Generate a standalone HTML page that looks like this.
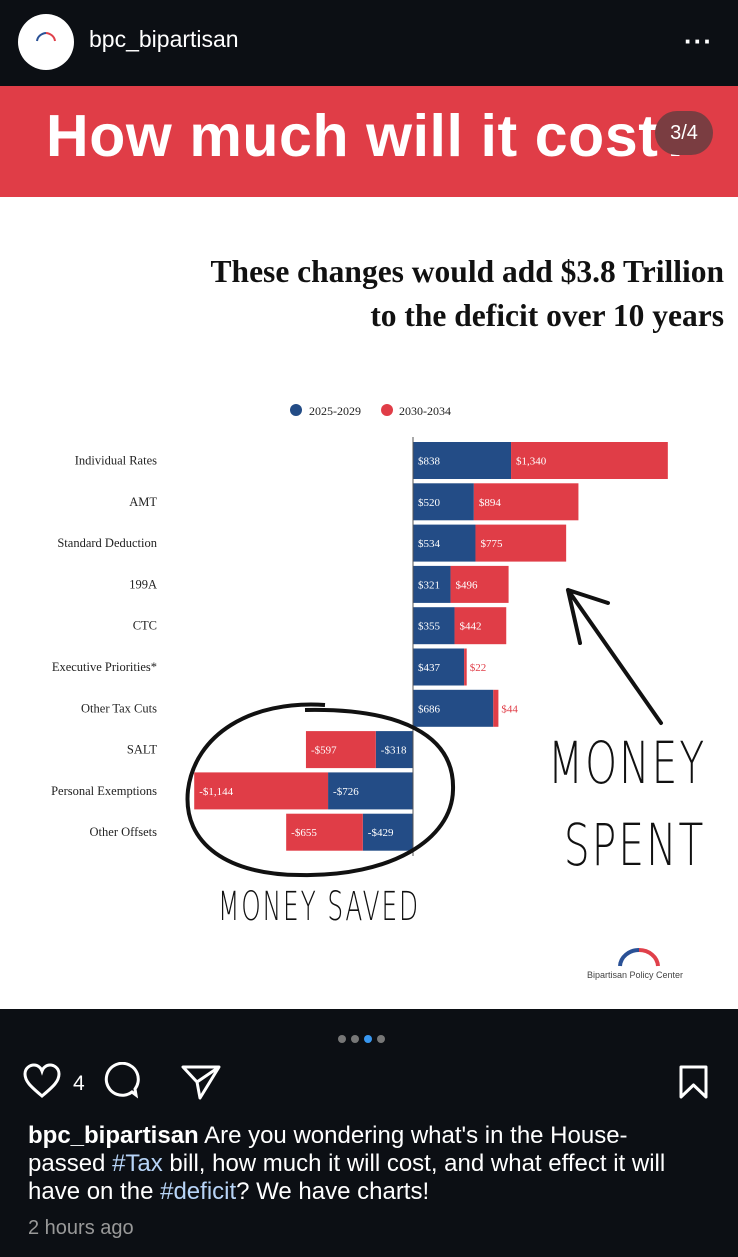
<!DOCTYPE html>
<html><head><meta charset="utf-8"><style>
body{margin:0;width:738px;height:1257px;background:#0c0f14;position:relative;overflow:hidden;font-family:"Liberation Sans",sans-serif}
.abs{position:absolute}
</style></head><body>
<div class="abs" style="left:18px;top:14px;width:56px;height:56px;border-radius:50%;background:#fff"></div>
<svg class="abs" style="left:34px;top:30px" width="24" height="12"><path d="M3 11 A10 9 0 0 1 12 3" stroke="#2a5196" stroke-width="2" fill="none"/><path d="M12 3 A10 9 0 0 1 21 11" stroke="#e0404a" stroke-width="2" fill="none"/></svg>
<div class="abs" style="left:89px;top:26px;color:#fff;font-size:23px">bpc_bipartisan</div>
<div class="abs" style="left:684px;top:26px;color:#fff;font-size:26px;letter-spacing:1px;font-weight:bold">···</div>
<div class="abs" style="left:0;top:86px;width:738px;height:111px;background:#e03d47"></div>
<div class="abs" style="left:46px;top:102px;color:#fff;font-size:59px;font-weight:bold;letter-spacing:0.6px;white-space:nowrap">How much will it cost?</div>
<div class="abs" style="left:655px;top:111px;width:58px;height:44px;border-radius:22px;background:#7a3d41;color:#fff;font-size:20px;text-align:center;line-height:44px">3/4</div>
<div class="abs" style="left:0;top:197px;width:738px;height:812px;background:#fff"></div>
<div class="abs" style="right:14px;top:250px;text-align:right;font-family:'Liberation Serif',serif;font-weight:bold;font-size:31.5px;line-height:44px;color:#111;white-space:nowrap">These changes would add $3.8 Trillion<br>to the deficit over 10 years</div>
<svg id="chart" class="abs" style="left:0;top:390px" width="738" height="620"></svg>
<div class="abs" style="left:548px;top:722px;font-size:58px;line-height:82px;color:#111;font-family:'DejaVu Sans',sans-serif;font-weight:200;transform:scaleX(0.7);transform-origin:left top;letter-spacing:3px;text-align:center">MONEY<br>&nbsp;SPENT</div>
<div class="abs" style="left:218px;top:884px;font-size:40px;color:#111;font-family:'DejaVu Sans',sans-serif;font-weight:200;transform:scaleX(0.62);transform-origin:left top;letter-spacing:3px;white-space:nowrap">MONEY SAVED</div>
<div class="abs" style="left:587px;top:970px;font-size:9px;color:#444">Bipartisan Policy Center</div>
<svg class="abs" style="left:616px;top:946px" width="46" height="22"><path d="M4 20 A19 17 0 0 1 23 4" stroke="#2a5196" stroke-width="4" fill="none"/><path d="M23 4 A19 17 0 0 1 42 20" stroke="#e0404a" stroke-width="4" fill="none"/></svg>
<div class="abs" style="left:338px;top:1030px">
<span style="display:inline-block;width:8px;height:8px;border-radius:50%;background:#777;margin-right:5px"></span><span style="display:inline-block;width:8px;height:8px;border-radius:50%;background:#777;margin-right:5px"></span><span style="display:inline-block;width:8px;height:8px;border-radius:50%;background:#3897f0;margin-right:5px"></span><span style="display:inline-block;width:8px;height:8px;border-radius:50%;background:#777"></span></div>
<svg class="abs" style="left:22px;top:1062px" width="220" height="40">
<path d="M20 34 C8 24 3 19 3 12 C3 6 8 3 12 3 C16 3 19 6 20 9 C21 6 24 3 28 3 C32 3 37 6 37 12 C37 19 32 24 20 34Z" fill="none" stroke="#fff" stroke-width="3"/>
<text x="51" y="28" fill="#fff" font-size="21" font-family="Liberation Sans">4</text>
<path d="M124 30 L128 33 L127 27 A16 16 0 1 0 124 30Z" fill="none" stroke="#fff" stroke-width="3" transform="translate(-14,0)"/>
<path d="M161 5 L197 5 L178 36 L175 20 Z M175 20 L197 5" fill="none" stroke="#fff" stroke-width="3" stroke-linejoin="round"/>
</svg>
<svg class="abs" style="left:678px;top:1064px" width="32" height="36"><path d="M3 3 H28 V33 L15.5 21 L3 33 Z" fill="none" stroke="#fff" stroke-width="3" stroke-linejoin="round"/></svg>
<div class="abs" style="left:28px;top:1122px;width:705px;color:#fff;font-size:24px;line-height:28px;white-space:nowrap"><b>bpc_bipartisan</b> Are you wondering what's in the House-<br>passed <span style="color:#b7d4f7">#Tax</span> bill, how much it will cost, and what effect it will<br>have on the <span style="color:#b7d4f7">#deficit</span>? We have charts!</div>
<div class="abs" style="left:28px;top:1217px;color:#999;font-size:20px">2 hours ago</div>
<script>
const categories=["Individual Rates","AMT","Standard Deduction","199A","CTC","Executive Priorities*","Other Tax Cuts","SALT","Personal Exemptions","Other Offsets"];
const early=[838,520,534,321,355,437,686,-318,-726,-429];
const late=[1340,894,775,496,442,22,44,-597,-1144,-655];
const earlyLabels=["$838","$520","$534","$321","$355","$437","$686","-$318","-$726","-$429"];
const lateLabels=["$1,340","$894","$775","$496","$442","$22","$44","-$597","-$1,144","-$655"];
const svg=document.getElementById('chart');
const NS='http://www.w3.org/2000/svg';
const x0=413, k=0.117;
const xs=v=>x0+v*k;
const rowY=i=>52+i*41.3;
const bh=37;
function mk(t,a){const e=document.createElementNS(NS,t);for(const n in a)e.setAttribute(n,a[n]);svg.appendChild(e);return e;}
let e=mk('circle',{cx:296,cy:20,r:6,fill:'#234c86'});


e=mk('text',{x:309,y:25,'font-size':12,'font-family':'Liberation Serif',fill:'#222'});e.textContent='2025-2029';


e=mk('circle',{cx:387,cy:20,r:6,fill:'#e03d47'});


e=mk('text',{x:399,y:25,'font-size':12,'font-family':'Liberation Serif',fill:'#222'});e.textContent='2030-2034';


categories.forEach((c,i)=>{
 const yc=rowY(i)+bh/2;
 let t=mk('text',{x:157,y:yc+4,'text-anchor':'end','font-size':12.5,'font-family':'Liberation Serif',fill:'#222'});t.textContent=c;
 
 
 const a=xs(0),b=xs(early[i]),d=xs(early[i]+late[i]);
 let r=mk('rect',{x:Math.min(a,b),y:rowY(i),width:Math.abs(b-a),height:bh,fill:'#234c86'});
 
 
 r=mk('rect',{x:Math.min(b,d),y:rowY(i),width:Math.abs(d-b),height:bh,fill:'#e03d47'});
 
 
 const neg=early[i]<0;
 t=mk('text',{x:(neg?b:a)+5,y:yc+4,'font-size':11,'font-family':'Liberation Serif',fill:'#fff'});t.textContent=earlyLabels[i];
 
 
 const small=Math.abs(late[i])<100;
 t=mk('text',{x:(neg?d+5:(small?d+3:b+5)),y:yc+4,'font-size':11,'font-family':'Liberation Serif',fill:small?'#e03d47':'#fff'});t.textContent=lateLabels[i];
 
 
});
let ax=mk('line',{x1:x0,x2:x0,y1:47,y2:466,stroke:'#555','stroke-width':1});


let c=mk('path',{d:'M325 315 C250 310 195 345 188 400 C182 455 230 485 300 485 C390 487 452 450 453 400 C455 345 400 318 305 320',fill:'none',stroke:'#111','stroke-width':4});


let ar=mk('path',{d:'M661 333 L568 200 M568 200 L608 213 M568 200 L580 253',fill:'none',stroke:'#111','stroke-width':4,'stroke-linecap':'round'});


</script>
</body></html>
